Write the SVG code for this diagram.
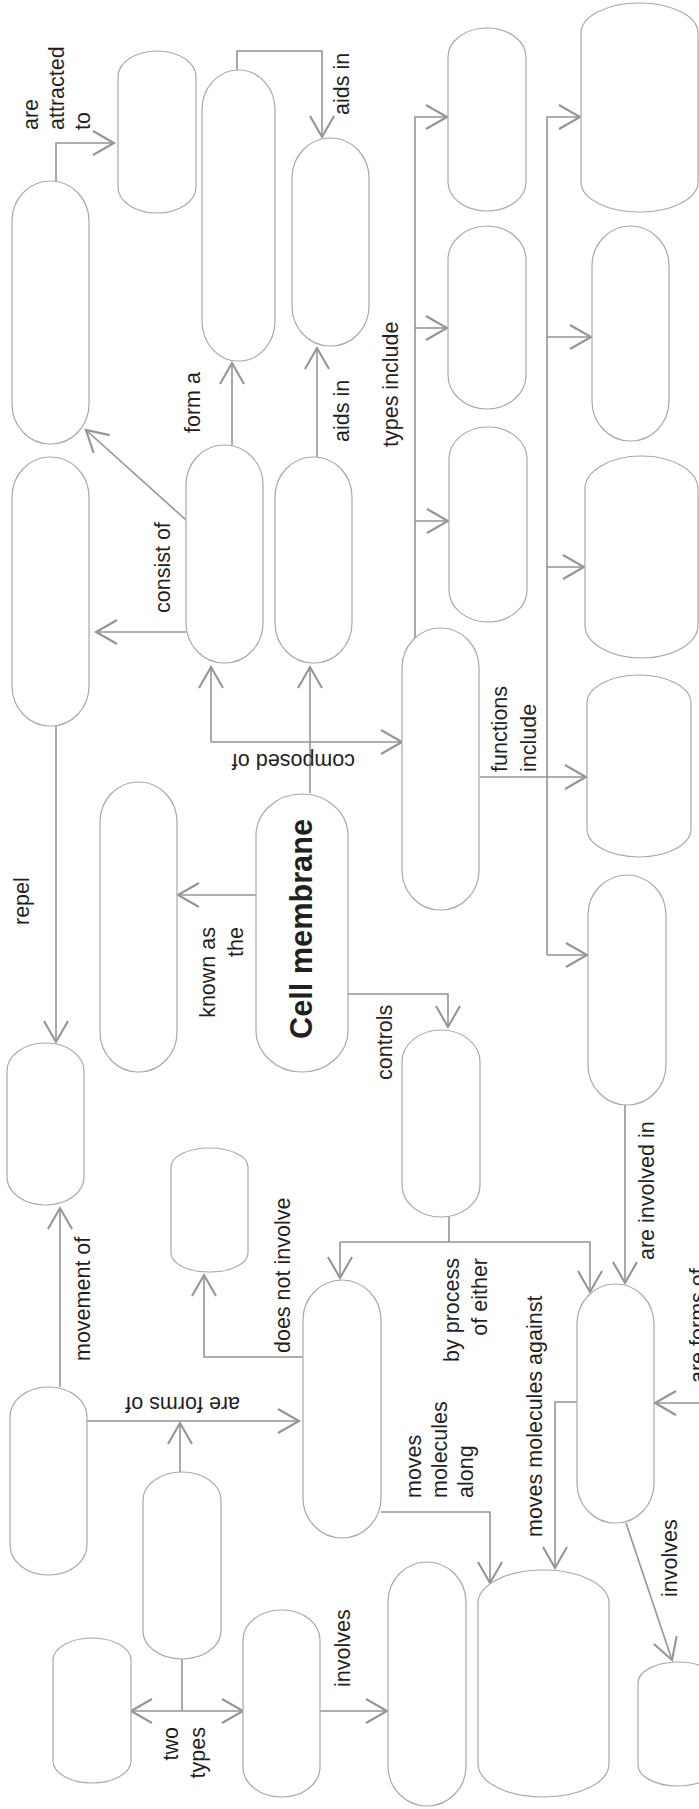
<svg xmlns="http://www.w3.org/2000/svg" width="699" height="1809" viewBox="0 0 699 1809">
<style>
.n{fill:#fff;stroke:#a7a9ac;stroke-width:1.2}
.c{fill:none;stroke:#939598;stroke-width:1.6}
.t{font-family:"Liberation Sans",Arial,sans-serif;font-size:21.5px;fill:#231f20}
.b{font-family:"Liberation Sans",Arial,sans-serif;font-size:31px;font-weight:bold;fill:#231f20}
</style>
<defs>
<marker id="ah" markerUnits="userSpaceOnUse" markerWidth="30" markerHeight="30" viewBox="-16 -10 18 20" refX="0" refY="0" orient="auto">
<path d="M-14,-8 L0,0 L-14,8" fill="none" stroke="#939598" stroke-width="1.4"/>
</marker>
</defs>
<rect width="699" height="1809" fill="#fff"/>
<g id="connectors">
<path class="c" d="M56,181 V143 H114" marker-end="url(#ah)"/>
<path class="c" d="M237,70 V51 H322 V137" marker-end="url(#ah)"/>
<path class="c" d="M232,445 V363" marker-end="url(#ah)"/>
<path class="c" d="M317,457 V348" marker-end="url(#ah)"/>
<path class="c" d="M186,520 L86,430" marker-end="url(#ah)"/>
<path class="c" d="M186,632 H96" marker-end="url(#ah)"/>
<path class="c" d="M56,726 V1042" marker-end="url(#ah)"/>
<path class="c" d="M310,793 V667" marker-end="url(#ah)"/>
<path class="c" d="M211,742 H402" marker-end="url(#ah)"/>
<path class="c" d="M211,742 V667" marker-end="url(#ah)"/>
<path class="c" d="M257,895 H178" marker-end="url(#ah)"/>
<path class="c" d="M348,994 H448 V1027" marker-end="url(#ah)"/>
<path class="c" d="M415,638 V117 H447" marker-end="url(#ah)"/>
<path class="c" d="M415,328 H447" marker-end="url(#ah)"/>
<path class="c" d="M415,521 H448" marker-end="url(#ah)"/>
<path class="c" d="M547,955 V117 H580" marker-end="url(#ah)"/>
<path class="c" d="M547,337 H591" marker-end="url(#ah)"/>
<path class="c" d="M547,567 H584" marker-end="url(#ah)"/>
<path class="c" d="M547,955 H587" marker-end="url(#ah)"/>
<path class="c" d="M480,777 H586" marker-end="url(#ah)"/>
<path class="c" d="M449,1217 V1242"/>
<path class="c" d="M340,1242 V1278" marker-end="url(#ah)"/>
<path class="c" d="M340,1242 H590 V1292" marker-end="url(#ah)"/>
<path class="c" d="M625,1105 V1283" marker-end="url(#ah)"/>
<path class="c" d="M303,1357 H204 V1275" marker-end="url(#ah)"/>
<path class="c" d="M60,1387 V1208" marker-end="url(#ah)"/>
<path class="c" d="M87,1421 H299" marker-end="url(#ah)"/>
<path class="c" d="M180,1472 V1423" marker-end="url(#ah)"/>
<path class="c" d="M381,1512 H490 V1583" marker-end="url(#ah)"/>
<path class="c" d="M581,1402 H555 V1568" marker-end="url(#ah)"/>
<path class="c" d="M699,1403 H655" marker-end="url(#ah)"/>
<path class="c" d="M626,1523 L672,1660" marker-end="url(#ah)"/>
<path class="c" d="M182,1659 V1711"/>
<path class="c" d="M182,1711 H131" marker-end="url(#ah)"/>
<path class="c" d="M182,1711 H243" marker-end="url(#ah)"/>
<path class="c" d="M320,1711 H387" marker-end="url(#ah)"/>
</g>
<g id="labels">
<text class="t" transform="translate(38,130) rotate(-90)"><tspan x="0" y="0">are</tspan><tspan x="0" dy="26">attracted</tspan><tspan x="0" dy="26">to</tspan></text>
<text class="t" transform="translate(200,433) rotate(-90)">form a</text>
<text class="t" transform="translate(349,115) rotate(-90)">aids in</text>
<text class="t" transform="translate(349,442) rotate(-90)">aids in</text>
<text class="t" transform="translate(398,447) rotate(-90)">types include</text>
<text class="t" transform="translate(170,613) rotate(-90)">consist of</text>
<text class="t" transform="translate(355,754) rotate(180)">composed of</text>
<text class="t" transform="translate(29,925) rotate(-90)">repel</text>
<text class="t" transform="translate(215,927) rotate(-90)" text-anchor="end"><tspan x="0" y="0">known as</tspan><tspan x="0" dy="28">the</tspan></text>
<text class="t" transform="translate(90,1361) rotate(-90)">movement of</text>
<text class="t" transform="translate(290,1353) rotate(-90)">does not involve</text>
<text class="t" transform="translate(240,1397) rotate(180)">are forms of</text>
<text class="t" transform="translate(421,1498) rotate(-90)"><tspan x="0" y="0">moves</tspan><tspan x="0" dy="26">molecules</tspan><tspan x="0" dy="26">along</tspan></text>
<text class="t" transform="translate(542,1537) rotate(-90)">moves molecules against</text>
<text class="t" transform="translate(459,1258) rotate(-90)" text-anchor="end"><tspan x="0" y="0">by process</tspan><tspan x="0" dy="28">of either</tspan></text>
<text class="t" transform="translate(392,1080) rotate(-90)">controls</text>
<text class="t" transform="translate(507,772) rotate(-90)"><tspan x="0" y="0">functions</tspan><tspan x="0" dy="29">include</tspan></text>
<text class="t" transform="translate(654,1260) rotate(-90)">are involved in</text>
<text class="t" transform="translate(705,1383) rotate(-90)">are forms of</text>
<text class="t" transform="translate(677,1597) rotate(-90)">involves</text>
<text class="t" transform="translate(350,1687) rotate(-90)">involves</text>
<text class="t" transform="translate(178,1727) rotate(-90)" text-anchor="end"><tspan x="0" y="0">two</tspan><tspan x="0" dy="27">types</tspan></text>
</g>
<g id="n-a1"><rect class="n" x="12" y="181" width="77" height="263" rx="38" ry="40"/></g>
<g id="n-b"><rect class="n" x="118" y="51" width="78" height="162" rx="39" ry="26"/></g>
<g id="n-c"><rect class="n" x="202" y="70" width="73" height="291" rx="36" ry="40"/></g>
<g id="n-d"><rect class="n" x="292" y="138" width="77" height="208" rx="38" ry="40"/></g>
<g id="n-e"><rect class="n" x="186" y="445" width="77" height="218" rx="38" ry="40"/></g>
<g id="n-p"><rect class="n" x="275" y="457" width="77" height="206" rx="38" ry="40"/></g>
<g id="n-a2"><rect class="n" x="12" y="457" width="77" height="269" rx="38" ry="40"/></g>
<g id="n-f"><rect class="n" x="448" y="28" width="78" height="183" rx="39" ry="29"/></g>
<g id="n-g"><rect class="n" x="448" y="226" width="78" height="183" rx="39" ry="34"/></g>
<g id="n-h"><rect class="n" x="449" y="427" width="78" height="195" rx="39" ry="32"/></g>
<g id="n-i"><rect class="n" x="402" y="628" width="77" height="282" rx="38" ry="40"/></g>
<g id="n-j"><rect class="n" x="581" y="3" width="117" height="209" rx="58" ry="30"/></g>
<g id="n-k"><rect class="n" x="592" y="226" width="77" height="215" rx="38" ry="40"/></g>
<g id="n-l"><rect class="n" x="585" y="456" width="113" height="202" rx="56" ry="33"/></g>
<g id="n-m"><rect class="n" x="587" y="675" width="104" height="182" rx="52" ry="28"/></g>
<g id="n-n"><rect class="n" x="588" y="875" width="78" height="230" rx="39" ry="40"/></g>
<g id="n-q"><rect class="n" x="100" y="782" width="77" height="290" rx="38" ry="40"/></g>
<g id="n-cm"><rect class="n" x="256" y="794" width="92" height="278" rx="46" ry="42"/><text class="b" transform="translate(312,929) rotate(-90)" text-anchor="middle" textLength="220" lengthAdjust="spacingAndGlyphs">Cell membrane</text></g>
<g id="n-r"><rect class="n" x="7" y="1043" width="77" height="162" rx="38" ry="28"/></g>
<g id="n-t"><rect class="n" x="171" y="1148" width="77" height="124" rx="38" ry="19"/></g>
<g id="n-v"><rect class="n" x="402" y="1030" width="78" height="187" rx="39" ry="32"/></g>
<g id="n-u"><rect class="n" x="303" y="1280" width="78" height="258" rx="39" ry="40"/></g>
<g id="n-w"><rect class="n" x="577" y="1284" width="77" height="239" rx="38" ry="40"/></g>
<g id="n-s"><rect class="n" x="10" y="1387" width="77" height="188" rx="38" ry="30"/></g>
<g id="n-ac"><rect class="n" x="143" y="1472" width="78" height="187" rx="39" ry="28"/></g>
<g id="n-ad"><rect class="n" x="53" y="1638" width="78" height="145" rx="39" ry="22"/></g>
<g id="n-ae"><rect class="n" x="243" y="1610" width="77" height="187" rx="38" ry="30"/></g>
<g id="n-aa"><rect class="n" x="388" y="1562" width="78" height="244" rx="39" ry="40"/></g>
<g id="n-y"><rect class="n" x="478" y="1570" width="131" height="227" rx="65" ry="33"/></g>
<g id="n-z"><rect class="n" x="638" y="1662" width="80" height="124" rx="40" ry="21"/></g>
</svg>
